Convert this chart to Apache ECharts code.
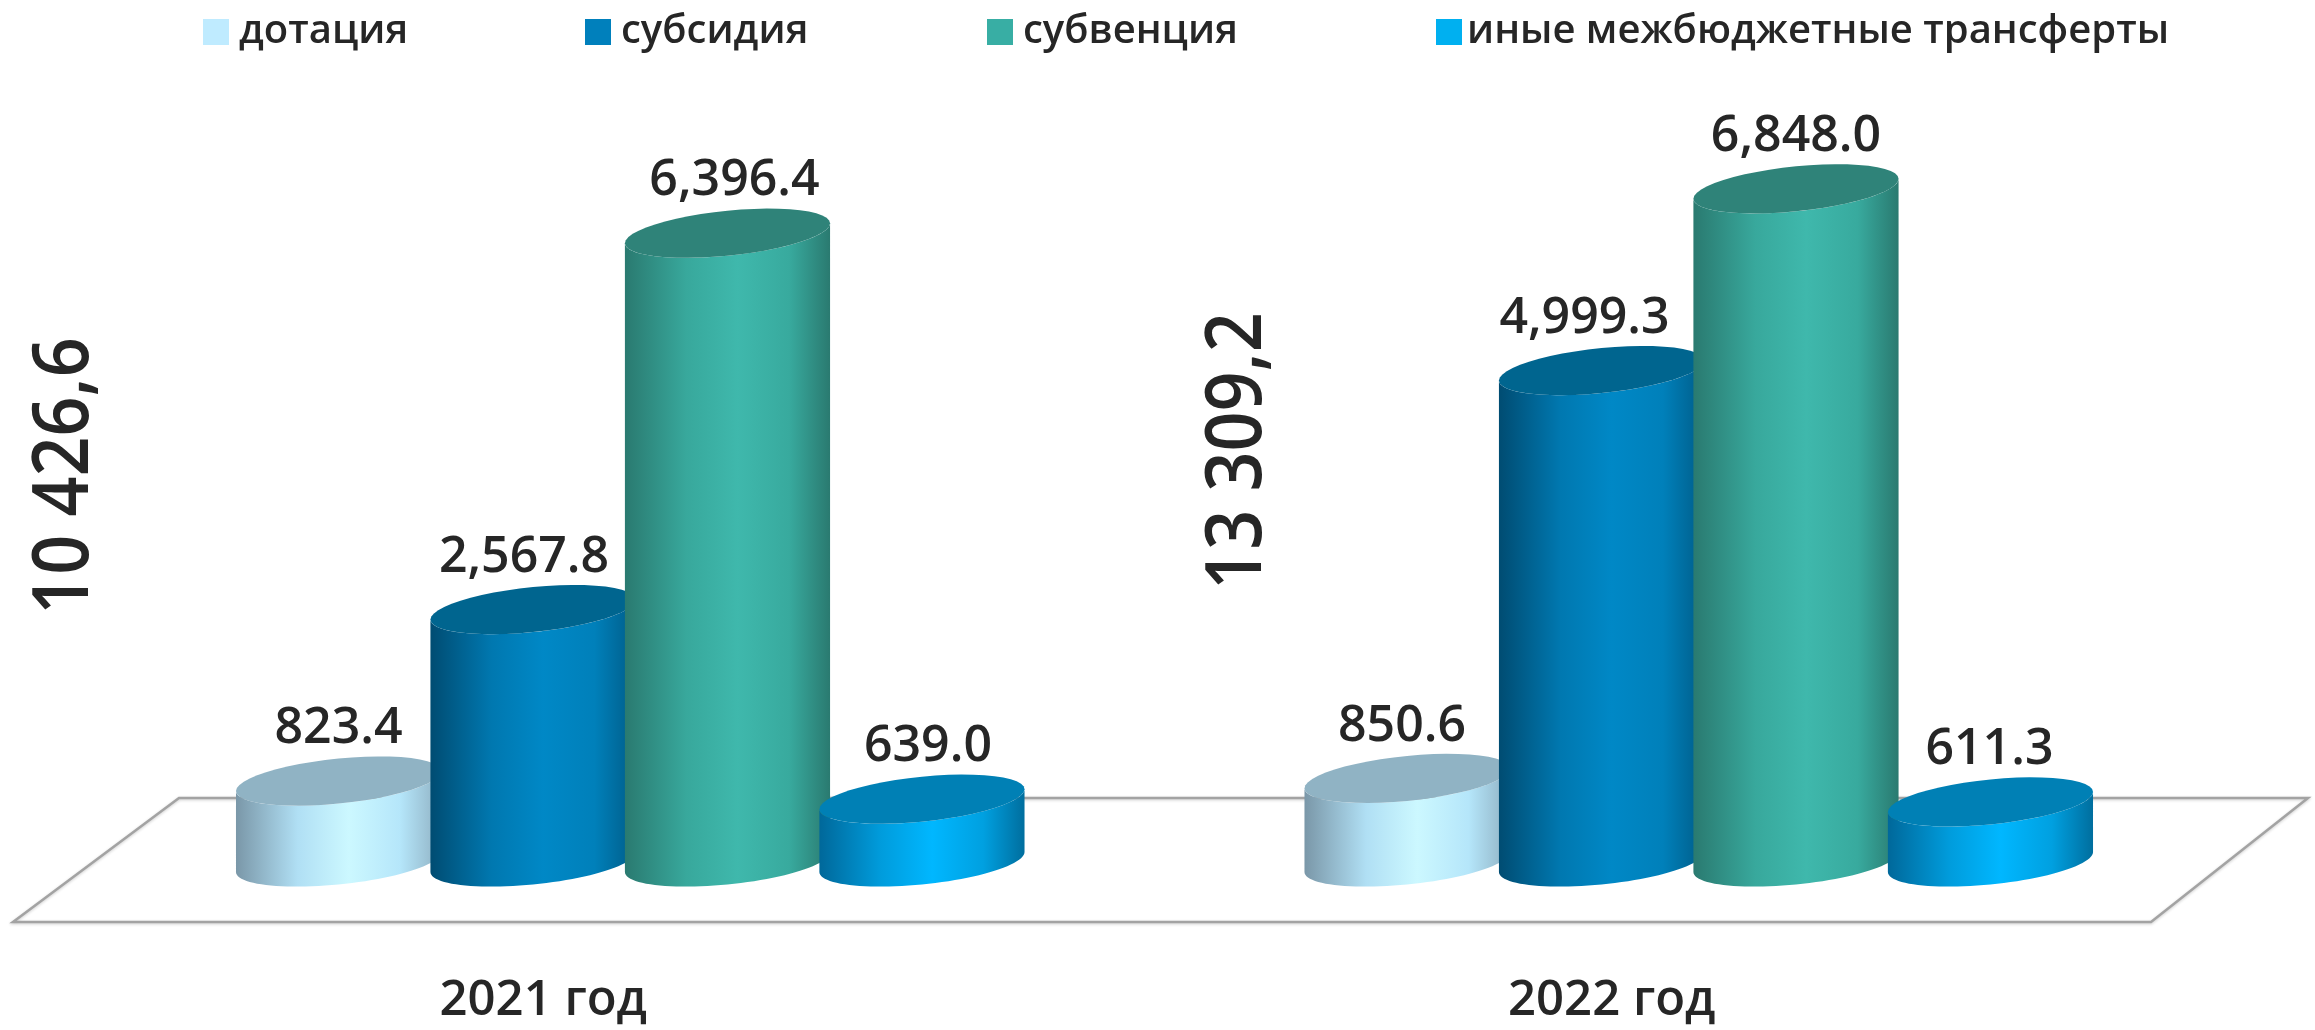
<!DOCTYPE html>
<html>
<head>
<meta charset="utf-8">
<style>html,body{margin:0;padding:0;background:#fff}#container{width:2315px;height:1030px}</style>
<script src="https://cdn.jsdelivr.net/npm/echarts@6/dist/echarts.min.js"></script>
</head>
<body>
<div id="container"></div>
<script>
var categories = ['2021 год', '2022 год'];
var dotacia = [823.4, 850.6];
var subsidia = [2567.8, 4999.3];
var subvencia = [6396.4, 6848.0];
var inye = [639.0, 611.3];
var totals = ['10 426,6', '13 309,2'];
var names = ['дотация', 'субсидия', 'субвенция', 'иные межбюджетные трансферты'];

var font = '"Open Sans"';
var textColor = '#262626';

// цвета цилиндров: крышка и градиент боковой стороны
var looks = [
	{ legend: '#BFEBFF', top: '#90B3C4', side: ['#7A97A8', '#B0DFF4', '#CCF8FF', '#B5E6FA', '#8FB0C2'] },
	{ legend: '#0080BC', top: '#00658F', side: ['#004C72', '#0078B0', '#0088C6', '#0080BA', '#005C88'] },
	{ legend: '#38AEA4', top: '#2F8379', side: ['#2A7A70', '#38A89C', '#3FB8AC', '#38AA9E', '#2A7A70'] },
	{ legend: '#00B0F0', top: '#0080B5', side: ['#00689A', '#009CDC', '#00B7FF', '#00A0E0', '#006E9E'] }
];

// небольшие сдвиги подписей по горизонтали
var labelShift = [[0, -9, 7, 6], [-5, -17, 0, -1]];

function ellipsePoints(cx, cy, a, b, skew, from, to) {
	var pts = [];
	for (var i = 0; i <= 48; i++) {
		var t = from + (to - from) * i / 48;
		pts.push([cx + a * Math.cos(t), cy + b * Math.sin(t) - skew * Math.cos(t)]);
	}
	return pts;
}

function cylinder(seriesIdx) {
	return function (params, api) {
		var cat = api.value(0);
		var val = api.value(1);
		var band = api.size([1, 0])[0];
		var pitch = band * 0.182;
		var a = band * 0.096;
		var b = 22.5;
		var skew = 10;
		var cx = api.coord([cat, 0])[0] + (seriesIdx - 1.5) * pitch;
		var baseY = api.coord([cat, 0])[1];
		var topY = api.coord([cat, val])[1];
		var look = looks[seriesIdx];
		var front = ellipsePoints(cx, baseY, a, b, skew, Math.PI, 0);
		var back = ellipsePoints(cx, topY, a, b, skew, 0, Math.PI);
		var stops = [0, 0.3, 0.55, 0.8, 1].map(function (o, i) {
			return { offset: o, color: look.side[i] };
		});
		return {
			type: 'group',
			children: [{
				type: 'polygon',
				shape: { points: front.concat(back) },
				style: { fill: new echarts.graphic.LinearGradient(0, 0, 1, 0, stops) }
			}, {
				type: 'polygon',
				shape: { points: ellipsePoints(cx, topY, a, b, skew, 0, Math.PI * 2) },
				style: { fill: look.top }
			}, {
				type: 'text',
				z2: 10,
				style: {
					x: cx + labelShift[cat][seriesIdx],
					y: topY - 27,
					text: val.toLocaleString('en-US', { minimumFractionDigits: 1, maximumFractionDigits: 1 }),
					align: 'center',
					verticalAlign: 'bottom',
					fill: textColor,
					font: '600 50px ' + font
				}
			}]
		};
	};
}

function makeSeries(name, values, idx) {
	return {
		name: name,
		type: 'custom',
		coordinateSystem: 'cartesian2d',
		clip: false,
		itemStyle: { color: looks[idx].legend },
		encode: { x: 0, y: 1 },
		data: values.map(function (v, i) { return [i, v]; }),
		renderItem: cylinder(idx)
	};
}

function makeLegend(name, left, idx, textPad) {
	return {
		left: left,
		top: 12,
		padding: 0,
		icon: 'rect',
		itemWidth: 26,
		itemHeight: 26,
		selectedMode: false,
		data: [{ name: name, itemStyle: { color: looks[idx].legend } }],
		textStyle: { fontFamily: font, fontWeight: 600, fontSize: 40, color: textColor, padding: [0, 0, 0, textPad] }
	};
}

function totalText(text, x, y) {
	return {
		type: 'text',
		x: x,
		y: y,
		rotation: Math.PI / 2,
		scaleY: 1.12,
		style: {
			text: text,
			align: 'center',
			verticalAlign: 'middle',
			fill: textColor,
			font: '600 70px ' + font
		}
	};
}

var myChart = echarts.init(document.getElementById('container'));

var option = {
	animation: false,
	legend: [
		makeLegend(names[0], 203, 0, 5),
		makeLegend(names[1], 585, 1, 5),
		makeLegend(names[2], 987, 2, 5),
		makeLegend(names[3], 1436, 3, 0)
	],
	grid: { left: 96, width: 2137, top: 75.6, height: 786.4 },
	xAxis: {
		type: 'category',
		data: categories,
		axisLine: { show: false },
		axisTick: { show: false },
		axisLabel: {
			margin: 115,
			padding: [0, 174, 0, 0],
			fontFamily: font,
			fontWeight: 600,
			fontSize: 49,
			color: textColor
		}
	},
	yAxis: { type: 'value', min: 0, max: 8000, show: false },
	graphic: [{
		type: 'polygon',
		z: 0,
		shape: { points: [[179, 798], [2308, 798], [2151, 922], [13, 922]] },
		style: { fill: 'none', stroke: '#A3A3A3', lineWidth: 2.5, shadowColor: 'rgba(0,0,0,0.2)', shadowBlur: 3, shadowOffsetY: 1 }
	},
	totalText(totals[0], 66, 476),
	totalText(totals[1], 1239, 451)],
	series: [
		makeSeries(names[0], dotacia, 0),
		makeSeries(names[1], subsidia, 1),
		makeSeries(names[2], subvencia, 2),
		makeSeries(names[3], inye, 3)
	]
};

myChart.setOption(option);
</script>
</body>
</html>
